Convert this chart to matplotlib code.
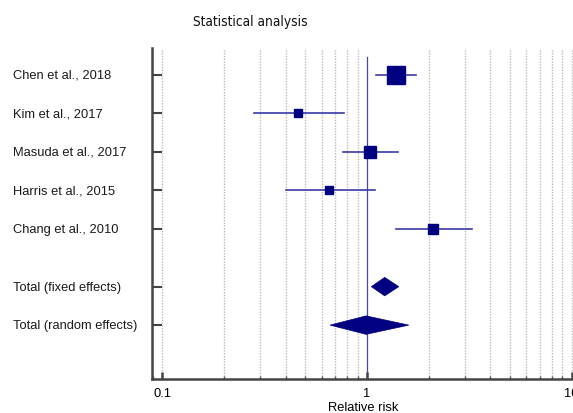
import numpy as np
import matplotlib
matplotlib.use('Agg')
import matplotlib.pyplot as plt
from matplotlib.patches import Polygon
from matplotlib.transforms import blended_transform_factory
from matplotlib.ticker import LogLocator, NullFormatter, FixedLocator, FixedFormatter

# study estimates (relative risk with 95% CI) and weights in percent
studies = ['Chen et al., 2018', 'Kim et al., 2017', 'Masuda et al., 2017',
           'Harris et al., 2015', 'Chang et al., 2010']
rr = [1.39, 0.46, 1.04, 0.65, 2.10]
ci_lo = [1.11, 0.28, 0.76, 0.40, 1.39]
ci_hi = [1.73, 0.77, 1.42, 1.09, 3.27]
weight = [47.9, 9.5, 21.3, 9.5, 12.0]

# pooled estimates
pooled = ['Total (fixed effects)', 'Total (random effects)']
pooled_rr = [1.22, 0.99]
pooled_lo = [1.05, 0.66]
pooled_hi = [1.43, 1.60]

navy = '#000080'
line_col = '#3a3aa8'

plt.rcParams['font.family'] = ['Liberation Sans', 'DejaVu Sans']

fig = plt.figure(figsize=(5.73, 4.14), dpi=100)
W, H = 573.0, 414.0
# one decade spans ~205 px, axis starts a bit left of 0.1
x0 = 152.0
dec = 204.7
xmin = 0.1 * 10 ** (-10.3 / dec)
xmax = 10.0 * 10 ** (3.0 / dec)
width = dec * np.log10(xmax / xmin)
ax = fig.add_axes([x0 / W, 1 - 380 / H, width / W, 331 / H])
ax.set_xscale('log')
ax.set_xlim(xmin, xmax)
ax.set_ylim(7.90, -0.70)

rows = list(range(len(studies)))
prow = [5.5, 6.5]

# grid at 0.1 .. 10
grid_x = [m * 10.0 ** e for e in (-1, 0) for m in range(1, 10)] + [10.0]
for g in grid_x:
    if g == 1.0:
        continue
    ax.axvline(g, ymin=0, ymax=0.997, color='#bcbcbc', lw=1.0, ls=(0, (1, 1)), zorder=0)

# line of no effect
ax.plot([1, 1], [7.90, -0.47], color='#4646b4', lw=0.9, zorder=1)

# individual studies
for y, r, lo, hi, w in zip(rows, rr, ci_lo, ci_hi, weight):
    ax.plot([lo, hi], [y, y], color=line_col, lw=1.2, zorder=2)
    ax.plot(r, y, marker='s', ms=1.88 * np.sqrt(w), color=navy, mec=navy, zorder=3)

# pooled diamonds
h = 0.24
for y, r, lo, hi in zip(prow, pooled_rr, pooled_lo, pooled_hi):
    d = Polygon([(lo, y), (r, y - h), (hi, y), (r, y + h)], closed=True,
                facecolor=navy, edgecolor=navy, lw=0.5, zorder=3)
    ax.add_patch(d)

fs = 9.3
# row labels at the left of the figure
tr = blended_transform_factory(fig.transFigure, ax.transData)
for y, s in zip(rows + prow, studies + pooled):
    ax.text(13 / W, y, s, transform=tr, ha='left', va='center', fontsize=fs, color='#1a1a1a')

ax.yaxis.set_major_locator(FixedLocator(rows + prow))
ax.set_yticklabels([])
ax.tick_params(axis='y', direction='in', length=7, width=1.5, color='#444444')

ax.xaxis.set_major_locator(FixedLocator([0.1, 1, 10]))
ax.xaxis.set_major_formatter(FixedFormatter(['0.1', '1', '10']))
ax.xaxis.set_minor_locator(LogLocator(base=10, subs=np.arange(2, 10)))
ax.xaxis.set_minor_formatter(NullFormatter())
ax.tick_params(axis='x', which='major', direction='in', length=5, width=1.8,
               color='#444444', labelsize=fs, pad=6)
ax.tick_params(axis='x', which='minor', direction='in', length=2, width=1.0, color='#555555')

for side in ('top', 'right'):
    ax.spines[side].set_visible(False)
for side in ('left', 'bottom'):
    ax.spines[side].set_color('#444444')
    ax.spines[side].set_linewidth(1.8)

ax.set_xlabel('Relative risk', fontsize=fs, labelpad=1.5)

fig.text(250 / W, 1 - 22 / H, 'Statistical analysis', ha='center', va='center',
         fontsize=9.8, family=['DejaVu Sans'], stretch='condensed', color='#111111')

fig.savefig('out.png', dpi=100)
